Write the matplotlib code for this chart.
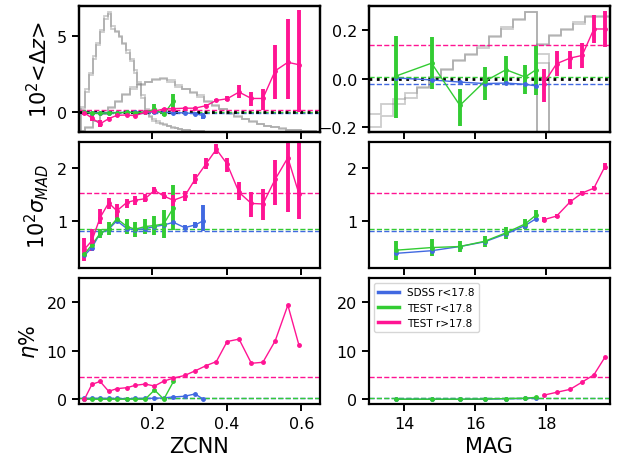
import numpy as np
import matplotlib
matplotlib.use('Agg')
import matplotlib.pyplot as plt
from matplotlib.lines import Line2D

# colours for the three samples
c_sdss = '#4169e1'
c_lo = '#33cc33'
c_hi = '#ff1493'

# ---- redshift bins (left column) ----
z_hi = [0.018, 0.038, 0.060, 0.083, 0.105, 0.132, 0.154, 0.181, 0.206, 0.231, 0.257,
        0.287, 0.315, 0.345, 0.372, 0.401, 0.433, 0.466, 0.497, 0.530, 0.564, 0.594]
z_lo = z_hi[:11]
z_sdss = z_hi[:13] + [0.337]

# 100 * <dz>
dz_hi = [-0.04, -0.38, -0.76, -0.42, -0.20, -0.18, -0.22, 0.0, 0.07, 0.22, 0.24,
         0.27, 0.27, 0.44, 0.78, 0.89, 1.33, 0.91, 0.91, 2.73, 3.29, 3.13]
dz_hi_lo = [0.15, 0.2, 0.22, 0.1, 0.1, 0.08, 0.08, 0.08, 0.08, 0.08, 0.1,
            0.1, 0.1, 0.12, 0.12, 0.15, 0.37, 0.47, 0.73, 1.84, 2.40, 3.13]
dz_hi_up = [0.15, 0.2, 0.22, 0.1, 0.1, 0.08, 0.08, 0.08, 0.08, 0.08, 0.1,
            0.1, 0.1, 0.12, 0.12, 0.15, 0.45, 0.45, 0.60, 1.71, 2.82, 3.60]
dz_lo = [0.0, -0.05, -0.08, -0.03, -0.05, 0.0, -0.02, 0.0, 0.20, -0.13, 0.75]
dz_lo_err = [0.05, 0.05, 0.05, 0.05, 0.05, 0.05, 0.06, 0.08, 0.33, 0.12, 0.47]
dz_sdss = [0.0, -0.02, -0.03, -0.02, -0.02, 0.0, -0.01, 0.0, 0.02, 0.0, -0.02,
           -0.04, -0.09, -0.22]
dz_sdss_err = [0.03] * 11 + [0.06, 0.08, 0.2]

# 100 * sigma_MAD
sig_hi = [0.46, 0.62, 1.06, 1.34, 1.19, 1.35, 1.39, 1.42, 1.58, 1.47, 1.39,
          1.47, 1.79, 2.09, 2.36, 2.08, 1.54, 1.33, 1.32, 1.79, 2.20, 1.51]
sig_hi_lo = [0.22, 0.19, 0.12, 0.12, 0.13, 0.10, 0.09, 0.07, 0.07, 0.06, 0.11,
             0.09, 0.09, 0.10, 0.09, 0.15, 0.14, 0.25, 0.30, 0.49, 1.03, 0.48]
sig_hi_up = [0.21, 0.22, 0.16, 0.10, 0.13, 0.07, 0.08, 0.09, 0.07, 0.07, 0.10,
             0.10, 0.10, 0.11, 0.10, 0.12, 0.19, 0.21, 0.28, 0.36, 0.80, 1.20]
sig_lo = [0.37, 0.54, 0.76, 0.85, 1.04, 0.89, 0.84, 0.89, 0.91, 0.94, 1.25]
sig_lo_err = [0.02, 0.11, 0.09, 0.12, 0.09, 0.15, 0.14, 0.15, 0.19, 0.26, 0.43]
sig_sdss = [0.34, 0.49, 0.76, 0.84, 1.00, 0.85, 0.83, 0.85, 0.89, 0.92, 0.97,
            0.87, 0.92, 1.00]
sig_sdss_lo = [0.02] * 11 + [0.05, 0.06, 0.19]
sig_sdss_up = [0.02] * 11 + [0.05, 0.06, 0.30]

# outlier fraction eta (%)
eta_hi = [0.0, 3.06, 3.67, 1.63, 2.18, 2.38, 2.86, 3.13, 2.72, 3.74, 4.35,
          4.90, 5.85, 6.94, 7.76, 11.9, 12.4, 7.41, 7.62, 12.04, 19.4, 11.1]
eta_lo = [0.0, 0.0, 0.0, 0.0, 0.0, 0.0, 0.0, 0.0, 1.9, 0.0, 3.67]
eta_sdss = [0.15, 0.15, 0.15, 0.15, 0.15, 0.1, 0.15, 0.15, 0.2, 0.27, 0.48,
            0.61, 1.09, 0.0]

# sample-wide values (dashed lines): sdss, test r<17.8, test r>17.8
mean_dz = [-0.03, 0.0, 0.18]
mean_dz_mag = [-0.021, 0.008, 0.141]
mean_sig = [0.81, 0.85, 1.53]
mean_eta = [0.2, 0.25, 4.55]

# ---- magnitude bins (right column) ----
m_lo = [13.77, 14.77, 15.57, 16.27, 16.87, 17.41, 17.72]
m_hi = [17.93, 18.30, 18.68, 19.02, 19.35, 19.66]

dzm_lo = [0.011, 0.064, -0.110, -0.011, 0.037, 0.007, 0.037]
dzm_lo_lo = [0.173, 0.108, 0.086, 0.078, 0.064, 0.069, 0.105]
dzm_lo_up = [0.164, 0.107, 0.069, 0.059, 0.056, 0.051, 0.097]
dzm_sdss = [0.003, -0.005, -0.014, -0.020, -0.018, -0.023, -0.030]
dzm_hi = [-0.020, 0.062, 0.085, 0.096, 0.205, 0.205]
dzm_hi_lo = [0.076, 0.051, 0.047, 0.052, 0.058, 0.075]
dzm_hi_up = [0.058, 0.054, 0.029, 0.051, 0.058, 0.073]

sigm_lo = [0.44, 0.49, 0.51, 0.61, 0.77, 0.94, 1.11]
sigm_lo_err = [0.18, 0.16, 0.11, 0.10, 0.11, 0.09, 0.10]
sigm_sdss = [0.38, 0.43, 0.51, 0.60, 0.75, 0.91, 1.04]
sigm_hi = [1.02, 1.09, 1.36, 1.53, 1.62, 2.03]
sigm_hi_err = [0.05, 0.04, 0.05, 0.04, 0.04, 0.07]

etam_lo = [0.0, 0.0, 0.0, 0.05, 0.14, 0.2, 0.4]
etam_sdss = [0.0, 0.0, 0.0, 0.0, 0.1, 0.15, 0.3]
etam_hi = [0.82, 1.43, 2.04, 3.54, 5.03, 8.64]

# ---- background histograms (fraction of panel height) ----
zh_narrow_edges = np.arange(0.0, 0.361, 0.01)
zh_narrow_a = [0.02, 0.18, 0.32, 0.45, 0.58, 0.69, 0.79, 0.90, 0.955, 0.82, 0.79, 0.75,
               0.70, 0.65, 0.58, 0.49, 0.40, 0.29, 0.18, 0.13, 0.10, 0.085, 0.07, 0.06,
               0.05, 0.04, 0.03, 0.025, 0.02, 0.015, 0.012, 0.01, 0.008, 0.006, 0.004, 0.003]
zh_narrow_b = [0.02, 0.20, 0.34, 0.47, 0.60, 0.71, 0.81, 0.92, 0.94, 0.84, 0.80, 0.76,
               0.71, 0.63, 0.56, 0.47, 0.38, 0.27, 0.17, 0.12, 0.09, 0.075, 0.065, 0.055,
               0.045, 0.035, 0.028, 0.022, 0.018, 0.014, 0.011, 0.009, 0.007, 0.005, 0.004, 0.003]
zh_broad_edges = np.arange(0.0, 0.661, 0.02)
zh_broad_a = [0.005, 0.04, 0.09, 0.145, 0.20, 0.25, 0.30, 0.36, 0.38, 0.40, 0.417,
              0.42, 0.40, 0.36, 0.34, 0.31, 0.28, 0.24, 0.21, 0.18, 0.145, 0.12, 0.10,
              0.08, 0.06, 0.047, 0.037, 0.026, 0.018, 0.013, 0.01, 0.006, 0.004]
zh_broad_b = [0.005, 0.035, 0.085, 0.14, 0.19, 0.24, 0.29, 0.345, 0.37, 0.395, 0.41,
              0.425, 0.41, 0.37, 0.345, 0.315, 0.29, 0.25, 0.215, 0.185, 0.15, 0.125, 0.105,
              0.085, 0.065, 0.05, 0.04, 0.03, 0.02, 0.015, 0.011, 0.007, 0.004]

mh_lo_edges = [13.0, 13.34, 13.67, 14.01, 14.35, 14.69, 15.03, 15.37, 15.71, 16.05,
               16.39, 16.72, 17.06, 17.40, 17.74, 18.08]
mh_lo_a = [0.14, 0.22, 0.26, 0.31, 0.36, 0.44, 0.50, 0.57, 0.62, 0.68, 0.76, 0.83,
           0.90, 0.955, 0.62]
mh_lo_b = [0.04, 0.13, 0.22, 0.27, 0.35, 0.43, 0.49, 0.56, 0.61, 0.67, 0.75, 0.82,
           0.89, 0.95, 0.55]
mh_hi_edges = [17.74, 18.08, 18.42, 18.76, 19.10, 19.44, 19.80]
mh_hi_a = [0.70, 0.77, 0.82, 0.87, 0.92, 0.92]
mh_hi_b = [0.69, 0.76, 0.81, 0.86, 0.915, 0.915]

plt.rcParams['font.size'] = 11.5
plt.rcParams['axes.linewidth'] = 1.6
plt.rcParams['xtick.major.width'] = 1.4
plt.rcParams['ytick.major.width'] = 1.4
plt.rcParams['xtick.major.size'] = 5
plt.rcParams['ytick.major.size'] = 5

fig, axs = plt.subplots(3, 2, figsize=(6.21, 4.64), dpi=100, sharex='col')
fig.subplots_adjust(left=0.127, right=0.982, bottom=0.127, top=0.985,
                    wspace=0.203, hspace=0.079)

eb = dict(marker='o', ms=2.5, lw=1, elinewidth=2.8, capsize=0)


def hlines(ax, vals):
    for v, c in zip(vals, [c_sdss, c_lo, c_hi]):
        ax.axhline(v, color=c, ls='--', lw=1)


def background(ax, edges, heights):
    tw = ax.twinx()
    for e, h in zip(edges, heights):
        tw.stairs(h, e, color='gray', alpha=0.4, lw=1.3)
    tw.set_ylim(0, 1)
    tw.set_yticks([])
    ax.set_zorder(tw.get_zorder() + 1)
    ax.patch.set_visible(False)


# top left: mean offset vs redshift
ax = axs[0, 0]
background(ax, [zh_narrow_edges, zh_narrow_edges, zh_broad_edges, zh_broad_edges],
           [zh_narrow_a, zh_narrow_b, zh_broad_a, zh_broad_b])
hlines(ax, mean_dz)
ax.axhline(0, color='k', ls=':', lw=2)
ax.errorbar(z_sdss, dz_sdss, yerr=dz_sdss_err, color=c_sdss, **eb)
ax.errorbar(z_lo, dz_lo, yerr=dz_lo_err, color=c_lo, **eb)
ax.errorbar(z_hi, dz_hi, yerr=[dz_hi_lo, dz_hi_up], color=c_hi, **eb)
ax.set_ylim(-1.3, 7)
ax.set_yticks([0, 5])
ax.set_ylabel(r'$10^2$<$\Delta z$>', fontsize=15)

# top right: mean offset vs magnitude
ax = axs[0, 1]
background(ax, [mh_lo_edges, mh_lo_edges, mh_hi_edges, mh_hi_edges],
           [mh_lo_a, mh_lo_b, mh_hi_a, mh_hi_b])
hlines(ax, mean_dz_mag)
ax.axhline(0, color='k', ls=':', lw=2)
ax.errorbar(m_lo, dzm_sdss, yerr=0.004, color=c_sdss, **eb)
ax.errorbar(m_lo, dzm_lo, yerr=[dzm_lo_lo, dzm_lo_up], color=c_lo, **eb)
ax.errorbar(m_hi, dzm_hi, yerr=[dzm_hi_lo, dzm_hi_up], color=c_hi, **eb)
ax.set_ylim(-0.22, 0.3)

# middle left: scatter vs redshift
ax = axs[1, 0]
hlines(ax, mean_sig)
ax.errorbar(z_sdss, sig_sdss, yerr=[sig_sdss_lo, sig_sdss_up], color=c_sdss, **eb)
ax.errorbar(z_lo, sig_lo, yerr=sig_lo_err, color=c_lo, **eb)
ax.errorbar(z_hi, sig_hi, yerr=[sig_hi_lo, sig_hi_up], color=c_hi, **eb)
ax.set_ylim(0.1, 2.5)
ax.set_ylabel(r'$10^2\sigma_{MAD}$', fontsize=15)

# middle right: scatter vs magnitude
ax = axs[1, 1]
hlines(ax, mean_sig)
ax.errorbar(m_lo, sigm_sdss, yerr=0.02, color=c_sdss, **eb)
ax.errorbar(m_lo, sigm_lo, yerr=sigm_lo_err, color=c_lo, **eb)
ax.errorbar(m_hi, sigm_hi, yerr=sigm_hi_err, color=c_hi, **eb)
ax.set_ylim(0.1, 2.5)

# bottom: outlier fraction
ax = axs[2, 0]
hlines(ax, mean_eta)
ax.plot(z_sdss, eta_sdss, 'o-', color=c_sdss, ms=2.5, lw=1)
ax.plot(z_lo, eta_lo, 'o-', color=c_lo, ms=2.5, lw=1)
ax.plot(z_hi, eta_hi, 'o-', color=c_hi, ms=2.5, lw=1)
ax.set_ylim(-1, 25)
ax.set_ylabel(r'$\eta$%', fontsize=15)
ax.set_xlabel('ZCNN', fontsize=15)
ax.set_xlim(0.003, 0.65)

ax = axs[2, 1]
hlines(ax, mean_eta)
ax.plot(m_lo, etam_sdss, 'o-', color=c_sdss, ms=2.5, lw=1)
ax.plot(m_lo, etam_lo, 'o-', color=c_lo, ms=2.5, lw=1)
ax.plot(m_hi, etam_hi, 'o-', color=c_hi, ms=2.5, lw=1)
ax.set_ylim(-1, 25)
ax.set_xlabel('MAG', fontsize=15)
ax.set_xlim(13.0, 19.8)

handles = [Line2D([], [], color=c, lw=2.5) for c in (c_sdss, c_lo, c_hi)]
ax.legend(handles, ['SDSS r<17.8', 'TEST r<17.8', 'TEST r>17.8'],
          loc='upper left', fontsize=7.5)

fig.savefig('out.png', dpi=100)
